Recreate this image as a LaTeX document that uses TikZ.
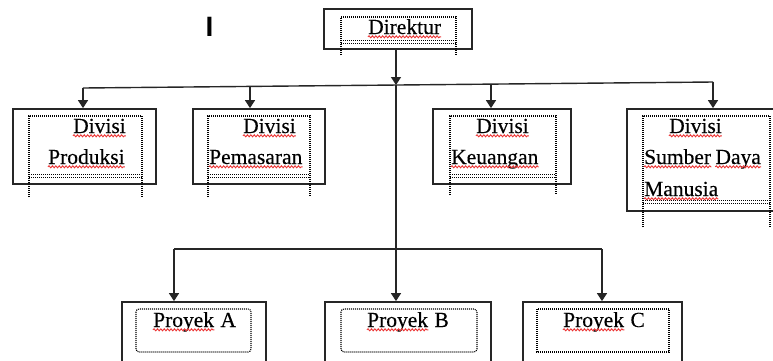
\documentclass[tikz,border=0pt]{standalone}
\usepackage{fontspec}
\setmainfont{Liberation Serif}
\newfontfamily\lblfont{Liberation Serif}[FakeBold=0.35]
\newfontfamily\cursorfont{Liberation Sans}
\usetikzlibrary{arrows.meta,decorations.pathmorphing}

\definecolor{linegray}{gray}{0.15}
\definecolor{squigred}{RGB}{235,50,50}

\tikzset{
  obox/.style={draw=linegray, line width=1.8pt, rectangle, inner sep=0pt},
  conn/.style={draw=linegray, line width=1.4pt},
  arr/.style={conn, -{Triangle[width=10pt,length=8pt]}},
  dots/.style={draw=black, line width=1.1pt, dash pattern=on 1pt off 1pt},
  lbl/.style={inner sep=0pt, anchor=base west, font=\lblfont\fontsize{21.5}{21.5}\selectfont},
  squig/.style={draw=squigred, line width=0.9pt, decorate,
    decoration={snake, amplitude=1pt, segment length=3.4pt}},
}

% dotted inner frame: left, top, right, bottom, end of the side legs
\newcommand\innerframe[5]{%
  \path[dots] (#1,#5) -- (#1,#2) -- (#3,#2) -- (#3,#5);
  \path[dots] (#1,#4-1.2) -- (#3,#4-1.2);
  \path[dots] (#1,#4+1.2) -- (#3,#4+1.2);
}
% wavy underline below a word node
\newcommand\squiggle[1]{%
  \path[squig] ([yshift=-2.8pt]#1.base west) -- ([yshift=-2.8pt]#1.base east);
}

\begin{document}
\begin{tikzpicture}[x=1pt, y=-1pt]
\useasboundingbox (0,0) rectangle (773,360);

% ---------- boxes ----------
\node[obox, minimum width=148pt, minimum height=40pt] (dir) at (398,29) {};
\node[obox, minimum width=143pt, minimum height=75pt] (prod) at (84.5,146.5) {};
\node[obox, minimum width=132pt, minimum height=75pt] (pem) at (259,146.5) {};
\node[obox, minimum width=138pt, minimum height=75pt] (keu) at (502,146.5) {};
\node[obox, minimum width=158pt, minimum height=102pt] (sdm) at (706,160) {};
\node[obox, minimum width=144pt, minimum height=68pt] (pa) at (194,336) {};
\node[obox, minimum width=166pt, minimum height=68pt] (pb) at (408,336) {};
\node[obox, minimum width=159pt, minimum height=68pt] (pc) at (602.5,336) {};

% ---------- dotted inner frames ----------
\innerframe{341}{17}{456}{42}{55}
\innerframe{29}{116}{142}{176}{197}
\innerframe{208}{116}{310}{176}{197}
\innerframe{450}{116}{556}{176}{195}
\innerframe{643}{116}{770}{202}{227}
\path[dots, rounded corners=3pt] (136,309) rectangle (251,352);
\path[dots, rounded corners=3pt] (341,309) rectangle (477,352);
\path[dots] (537,309) rectangle (669,352);

% ---------- labels ----------
\node[lbl] (tdir) at (368,34) {Direktur};
\node[lbl] (t1a) at (73,133) {Divisi};
\node[lbl] (t1b) at (48,164) {Produksi};
\node[lbl] (t2a) at (243,133) {Divisi};
\node[lbl] (t2b) at (209,164) {Pemasaran};
\node[lbl] (t3a) at (476,133) {Divisi};
\node[lbl] (t3b) at (451,164) {Keuangan};
\node[lbl] (t4a) at (669,133) {Divisi};
\node[lbl] (t4b) at (644,164) {Sumber};
\node[lbl, xshift=4pt] (t4c) at (t4b.base east) {Daya};
\node[lbl] (t4d) at (644,196) {Manusia};
\node[lbl] (tpa) at (153,327) {Proyek};
\node[lbl, xshift=6pt] (tpa2) at (tpa.base east) {A};
\node[lbl] (tpb) at (367,327) {Proyek};
\node[lbl, xshift=6pt] (tpb2) at (tpb.base east) {B};
\node[lbl] (tpc) at (563,327) {Proyek};
\node[lbl, xshift=6pt] (tpc2) at (tpc.base east) {C};
\node[inner sep=0pt, font=\cursorfont\bfseries\fontsize{28}{28}\selectfont] (cur) at (209.5,27) {I};

\foreach \w in {tdir,t1a,t1b,t2a,t2b,t3a,t3b,t4a,t4b,t4c,t4d,tpa,tpb,tpc}{\squiggle{\w}}

% ---------- connectors ----------
\coordinate (jn) at (396,85);
\coordinate (hl) at (83,88);
\coordinate (hr) at (713,82);
\coordinate (d2) at (250,86.4);
\coordinate (d3) at (491,84.1);
\coordinate (ll) at (174,249);
\coordinate (lr) at (602,249);

\path[arr] (dir.south -| jn) -- (jn);
\path[conn] (hr) -- (hl);
\path[arr] (hl) -- (hl |- prod.north);
\path[arr] (d2) -- (d2 |- pem.north);
\path[arr] (d3) -- (d3 |- keu.north);
\path[arr] (hr) -- (hr |- sdm.north);
\path[arr] (jn) -- (jn |- pb.north);
\path[conn] (ll) -- (lr);
\path[arr] (ll) -- (ll |- pa.north);
\path[arr] (lr) -- (lr |- pc.north);
\end{tikzpicture}
\end{document}
